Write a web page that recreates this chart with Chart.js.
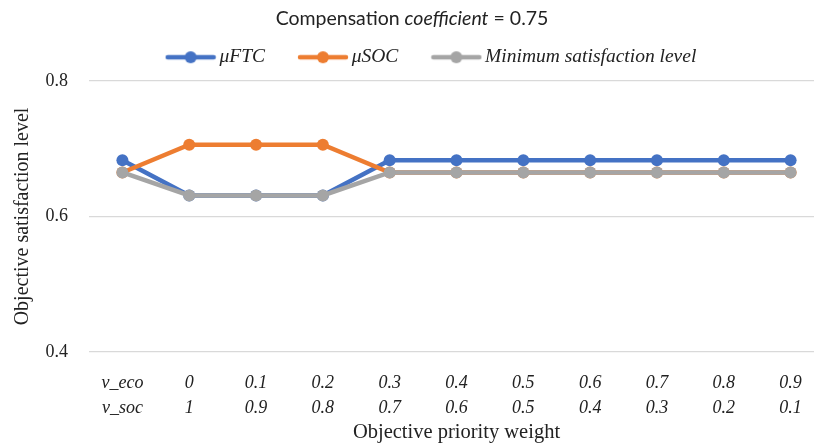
<!DOCTYPE html>
<html>
<head>
<meta charset="utf-8">
<script src="https://cdn.jsdelivr.net/npm/chart.js@4/dist/chart.umd.min.js"></script>
<style>
  html, body { margin: 0; padding: 0; overflow: hidden; background: #ffffff; }
  #wrap { width: 830px; height: 448px; }
</style>
</head>
<body>
<div id="wrap"><canvas id="chart" width="830" height="448"></canvas></div>
<script>
// Weight pairs (economic / social) and the satisfaction levels per pair
const rowHeads = ['v_eco', 'v_soc'];
const vEco = ['0', '0.1', '0.2', '0.3', '0.4', '0.5', '0.6', '0.7', '0.8', '0.9'];
const vSoc = ['1', '0.9', '0.8', '0.7', '0.6', '0.5', '0.4', '0.3', '0.2', '0.1'];

const muFTC  = [0.683, 0.631, 0.631, 0.631, 0.683, 0.683, 0.683, 0.683, 0.683, 0.683, 0.683];
const muSOC  = [0.665, 0.706, 0.706, 0.706, 0.665, 0.665, 0.665, 0.665, 0.665, 0.665, 0.665];
const minSat = [0.665, 0.631, 0.631, 0.631, 0.665, 0.665, 0.665, 0.665, 0.665, 0.665, 0.665];

const yTicks = [0.4, 0.6, 0.8];

const labels = [rowHeads].concat(vEco.map((e, i) => [e, vSoc[i]]));

const BLUE = '#4472C4', ORANGE = '#ED7D31', GRAY = '#A5A5A5';
const TEXT = '#222222';
const SERIF = '"Liberation Serif", "DejaVu Serif", serif';

// Small line-with-dot swatch used as the legend marker
function swatch(color) {
  const c = document.createElement('canvas');
  c.width = 52; c.height = 16;
  const g = c.getContext('2d');
  g.strokeStyle = color; g.lineWidth = 4.5; g.lineCap = 'round';
  g.beginPath(); g.moveTo(3, 8); g.lineTo(49, 8); g.stroke();
  g.fillStyle = color;
  g.beginPath(); g.arc(26, 8, 6, 0, Math.PI * 2); g.fill();
  return c;
}
const swatches = [swatch(BLUE), swatch(ORANGE), swatch(GRAY)];

// Title with an italic word in the middle
const mixedTitle = {
  id: 'mixedTitle',
  afterDraw(chart) {
    const ctx = chart.ctx;
    const parts = [
      { t: 'Compensation ', f: '19.5px Lato' },
      { t: 'coefficient', f: 'italic 19.5px Lato' },
      { t: ' = 0.75', f: '19.5px Lato' }
    ];
    ctx.save();
    let total = 0;
    parts.forEach(p => { ctx.font = p.f; p.w = ctx.measureText(p.t).width; total += p.w; });
    let x = 412 - total / 2;
    ctx.fillStyle = TEXT;
    ctx.textBaseline = 'middle';
    ctx.textAlign = 'left';
    parts.forEach(p => { ctx.font = p.f; ctx.fillText(p.t, x, 19); x += p.w; });
    ctx.restore();
  }
};

// Place the legend row slightly right of centre and a little higher
const legendShift = {
  id: 'legendShift',
  afterLayout(chart) {
    const lg = chart.legend;
    if (lg) { lg.left += 17; lg.right += 17; lg.top -= 4; lg.bottom -= 4; }
  }
};

const ds = (label, data, color, order) => ({
  label, data, order,
  borderColor: color, backgroundColor: color,
  borderWidth: 4.5,
  pointRadius: 6, pointHoverRadius: 6,
  pointBackgroundColor: color, pointBorderColor: color, pointBorderWidth: 0,
  tension: 0, fill: false
});

new Chart(document.getElementById('chart'), {
  type: 'line',
  data: {
    labels,
    datasets: [
      ds('\u03BCFTC', muFTC, BLUE, 3),
      ds('\u03BCSOC', muSOC, ORANGE, 2),
      ds('Minimum satisfaction level', minSat, GRAY, 1)
    ]
  },
  options: {
    responsive: false,
    animation: false,
    events: [],
    layout: { padding: { top: 12.5, right: 6, left: 10, bottom: 0 } },
    plugins: {
      title: { display: false },
      tooltip: { enabled: false },
      legend: {
        display: true,
        position: 'top',
        labels: {
          usePointStyle: true,
          pointStyleWidth: 38,
          boxHeight: 16,
          padding: 39,
          color: TEXT,
          font: { family: SERIF, size: 19.5, style: 'italic' },
          generateLabels(chart) {
            return chart.data.datasets.map((d, i) => ({
              text: d.label,
              fillStyle: d.borderColor,
              strokeStyle: d.borderColor,
              lineWidth: 0,
              pointStyle: swatches[i],
              datasetIndex: i,
              hidden: false,
              fontColor: TEXT
            }));
          }
        }
      }
    },
    scales: {
      x: {
        type: 'category',
        offset: true,
        afterFit(axis) { axis.height = 96; },
        grid: { display: false },
        border: { display: false },
        ticks: {
          color: TEXT,
          maxRotation: 0, autoSkip: false,
          padding: 11,
          font: { family: SERIF, size: 18, style: 'italic', lineHeight: 1.38 }
        },
        title: {
          display: true,
          text: 'Objective priority weight',
          color: TEXT,
          padding: { top: 0, bottom: 3 },
          font: { family: SERIF, size: 20.5 }
        }
      },
      y: {
        min: 0.4, max: 0.8,
        afterFit(axis) { axis.width = 79; },
        afterBuildTicks(axis) { axis.ticks = yTicks.map(v => ({ value: v })); },
        grid: { color: '#D9D9D9', lineWidth: 1.3, drawTicks: false },
        border: { display: false },
        ticks: {
          color: TEXT,
          padding: 21,
          font: { family: SERIF, size: 18 },
          callback: v => v.toFixed(1)
        },
        title: {
          display: true,
          text: 'Objective satisfaction level',
          color: TEXT,
          padding: { top: 1, bottom: 0 },
          font: { family: SERIF, size: 20 }
        }
      }
    }
  },
  plugins: [mixedTitle, legendShift]
});
</script>
</body>
</html>
